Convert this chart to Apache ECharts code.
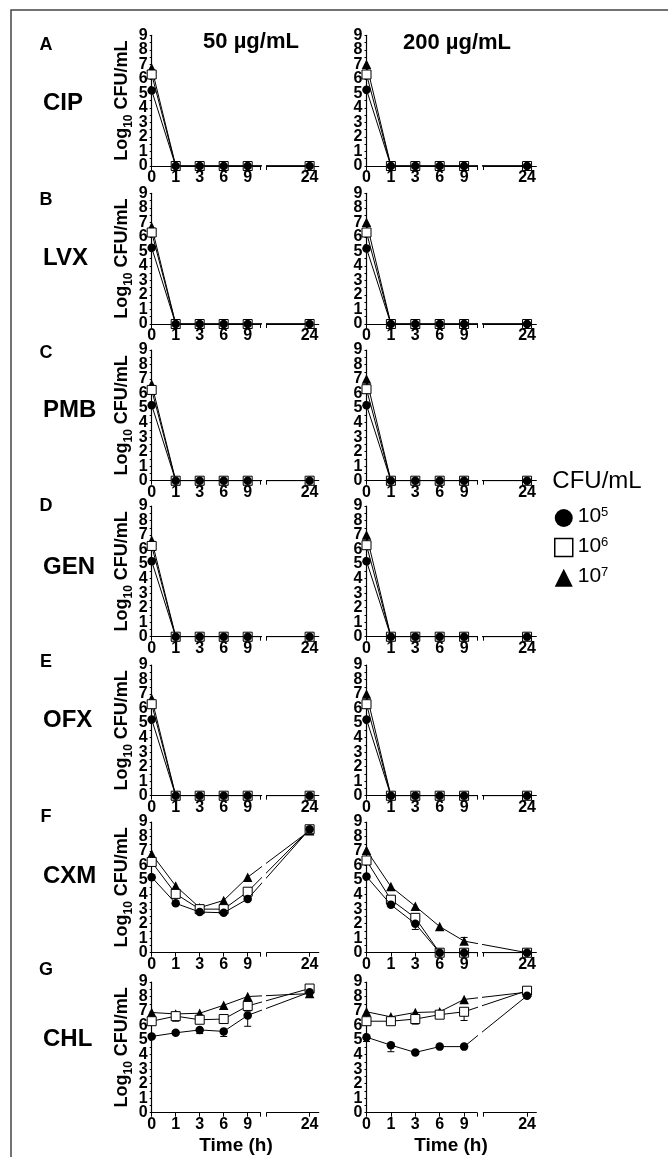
<!DOCTYPE html>
<html>
<head>
<meta charset="utf-8">
<script src="https://cdn.jsdelivr.net/npm/echarts@6/dist/echarts.min.js"></script>
<style>
html, body { margin: 0; padding: 0; background: #fff; }
#main { width: 668px; height: 1157px; }
</style>
</head>
<body>
<div id="main"></div>
<script>
// 时间点 (h)
var times = [0, 1, 3, 6, 9, 24];
var timeLabels = ['0', '1', '3', '6', '9', '24'];
var yTicks = [0, 1, 2, 3, 4, 5, 6, 7, 8, 9];
var rowLetters = ['A', 'B', 'C', 'D', 'E', 'F', 'G'];
var drugs = ['CIP', 'LVX', 'PMB', 'GEN', 'OFX', 'CXM', 'CHL'];
var doses = ['50 µg/mL', '200 µg/mL'];
var inocula = ['10^5', '10^6', '10^7'];

// 每组: [10^5 圆, 10^6 方, 10^7 三角], 对应 0,1,3,6,9,24 h
var cip50 = [[5.2, 0, 0, 0, 0, 0], [6.3, 0, 0, 0, 0, 0], [6.75, 0, 0, 0, 0, 0]];
var cip200 = [[5.25, 0, 0, 0, 0, 0], [6.3, 0, 0, 0, 0, 0], [7.0, 0, 0, 0, 0, 0]];
var lvx50 = [[5.25, 0, 0, 0, 0, 0], [6.3, 0, 0, 0, 0, 0], [6.7, 0, 0, 0, 0, 0]];
var lvx200 = [[5.2, 0, 0, 0, 0, 0], [6.3, 0, 0, 0, 0, 0], [7.0, 0, 0, 0, 0, 0]];
var pmb50 = [[5.2, 0, 0, 0, 0, 0], [6.25, 0, 0, 0, 0, 0], [6.65, 0, 0, 0, 0, 0]];
var pmb200 = [[5.2, 0, 0, 0, 0, 0], [6.3, 0, 0, 0, 0, 0], [7.0, 0, 0, 0, 0, 0]];
var gen50 = [[5.2, 0, 0, 0, 0, 0], [6.25, 0, 0, 0, 0, 0], [6.65, 0, 0, 0, 0, 0]];
var gen200 = [[5.2, 0, 0, 0, 0, 0], [6.3, 0, 0, 0, 0, 0], [7.0, 0, 0, 0, 0, 0]];
var ofx50 = [[5.25, 0, 0, 0, 0, 0], [6.3, 0, 0, 0, 0, 0], [6.7, 0, 0, 0, 0, 0]];
var ofx200 = [[5.25, 0, 0, 0, 0, 0], [6.3, 0, 0, 0, 0, 0], [7.0, 0, 0, 0, 0, 0]];
var cxm50 = [[5.2, 3.4, 2.8, 2.75, 3.7, 8.5], [6.25, 4.05, 3.0, 3.0, 4.2, 8.5], [6.8, 4.6, 3.1, 3.6, 5.2, 8.4]];
var cxm200 = [[5.25, 3.3, 2.0, 0, 0, 0], [6.35, 3.65, 2.4, 0, 0, 0], [7.05, 4.55, 3.2, 1.8, 0.8, 0]];
var chl50 = [[5.25, 5.5, 5.7, 5.6, 6.7, 8.3], [6.3, 6.65, 6.4, 6.45, 7.35, 8.55], [6.9, 6.8, 6.85, 7.4, 8.0, 8.2]];
var chl200 = [[5.2, 4.65, 4.15, 4.55, 4.55, 8.05], [6.3, 6.3, 6.45, 6.75, 6.95, 8.4], [6.95, 6.6, 6.9, 6.95, 7.8, 8.3]];

// 误差线: [组, 时间, 起, 止]
var cxm200Err = [[0, 3, 2.0, 1.6], [2, 6, 1.8, 1.55], [2, 9, 0.8, 1.05]];
var chl50Err = [[0, 3, 5.7, 5.45], [0, 6, 5.6, 5.25], [0, 9, 6.7, 5.95], [1, 1, 6.65, 6.3], [1, 9, 7.35, 7.0]];
var chl200Err = [[0, 0, 5.2, 4.9], [0, 1, 4.65, 4.2], [1, 3, 6.45, 6.1], [1, 9, 6.95, 6.35]];

var panels = [
    [cip50, cip200], [lvx50, lvx200], [pmb50, pmb200], [gen50, gen200],
    [ofx50, ofx200], [cxm50, cxm200], [chl50, chl200]
];
var panelErrs = [
    [[], []], [[], []], [[], []], [[], []], [[], []], [[], cxm200Err], [chl50Err, chl200Err]
];

(function () {
    var FONT = 'Arial, "Liberation Sans", sans-serif';
    var myChart = echarts.init(document.getElementById('main'));

    // 版面
    var rowZero = [166, 324, 480.7, 636.7, 795.7, 952.7, 1112.7];
    var letterY = [45, 200, 353, 506, 662, 817, 970];
    var drugY = [103, 258, 410, 567, 720, 876, 1039];
    var colOrigin = [151.7, 366.5];
    var colUnit = [24, 24.4];
    var PH = 130.7;
    // 断轴: 0..9 等距, 24 放在断口后
    var BREAK_L = 4.53, BREAK_R = 4.79, AXIS_END = 6.96, POS_24 = 6.58;
    function timePos(t) {
        return t === 24 ? POS_24 : times.indexOf(t);
    }
    var yEven = yTicks.filter(function (v) { return v % 2 === 0; });
    var yOdd = yTicks.filter(function (v) { return v % 2 === 1; });

    var symbols = ['circle', 'rect', 'triangle'];
    var symbolSizes = [8.5, 9, 9.5];
    var fills = ['#000', '#fff', '#000'];
    var zs = [5, 4, 3];

    var grids = [], xAxes = [], yAxes = [], series = [];
    var tickLabel = { fontSize: 16, fontWeight: 'bold', color: '#000', fontFamily: FONT };

    panels.forEach(function (row, r) {
        row.forEach(function (vals, c) {
            var zero = rowZero[r], x0 = colOrigin[c], u = colUnit[c];
            var gi = grids.length;
            grids.push({ left: x0, top: zero - PH, width: BREAK_L * u, height: PH });
            grids.push({ left: x0 + BREAK_R * u, top: zero - PH, width: (AXIS_END - BREAK_R) * u, height: PH });

            xAxes.push({
                gridIndex: gi, type: 'value', min: 0, max: BREAK_L,
                axisLine: { lineStyle: { color: '#000', width: 1.2 } },
                axisTick: { customValues: [0, 1, 2, 3, 4, BREAK_L], length: 4, lineStyle: { color: '#000' } },
                axisLabel: Object.assign({
                    customValues: [0, 1, 2, 3, 4], margin: 4,
                    formatter: function (v) { return timeLabels[Math.round(v)]; }
                }, tickLabel),
                splitLine: { show: false }
            });
            xAxes.push({
                gridIndex: gi + 1, type: 'value', min: BREAK_R, max: AXIS_END,
                axisLine: { lineStyle: { color: '#000', width: 1.2 } },
                axisTick: { customValues: [BREAK_R, POS_24], length: 4, lineStyle: { color: '#000' } },
                axisLabel: Object.assign({
                    customValues: [POS_24], margin: 4,
                    formatter: function () { return timeLabels[5]; }
                }, tickLabel),
                splitLine: { show: false }
            });

            // 主 y 轴 (偶数刻度标签) + 叠加轴 (奇数刻度标签), 避免标签被自动隐藏
            var yi = yAxes.length;
            var yMain = {
                gridIndex: gi, type: 'value', min: yTicks[0], max: yTicks[yTicks.length - 1], interval: 1,
                axisLine: { show: true, lineStyle: { color: '#000', width: 1.2 } },
                axisTick: { show: true, length: 2, lineStyle: { color: '#000' } },
                minorTick: { show: true, splitNumber: 2, length: 2, lineStyle: { color: '#000' } },
                axisLabel: Object.assign({ customValues: yEven, margin: 4, showMinLabel: true, showMaxLabel: true }, tickLabel),
                splitLine: { show: false }
            };
            if (c === 0) {
                yMain.name = '{a|Log}{s|10}{a| CFU/mL}';
                yMain.nameLocation = 'middle';
                yMain.nameGap = 17;
                yMain.nameTextStyle = {
                    rich: {
                        a: { fontSize: 18, fontWeight: 'bold', fontFamily: FONT, color: '#000', lineHeight: 22, verticalAlign: 'top' },
                        s: { fontSize: 12, fontWeight: 'bold', fontFamily: FONT, color: '#000', lineHeight: 12, verticalAlign: 'bottom' }
                    }
                };
            }
            yAxes.push(yMain);
            yAxes.push({
                gridIndex: gi, type: 'value', position: 'left', offset: 0,
                min: yTicks[0], max: yTicks[yTicks.length - 1], interval: 1,
                axisLine: { show: false }, axisTick: { show: false },
                axisLabel: Object.assign({ customValues: yOdd, margin: 4, showMinLabel: true, showMaxLabel: true }, tickLabel),
                splitLine: { show: false }
            });
            yAxes.push({ gridIndex: gi + 1, type: 'value', min: 0, max: 9, show: false });
            var yIdx = [yi, yi + 2];

            // 三组曲线, 断口两侧各画一次 (由网格裁剪)
            [2, 1, 0].forEach(function (k) {
                var pts = vals[k].map(function (v, i) { return [timePos(times[i]), v]; });
                [0, 1].forEach(function (g) {
                    series.push({
                        type: 'line', name: inocula[k],
                        xAxisIndex: gi + g, yAxisIndex: yIdx[g],
                        data: pts, clip: true,
                        symbol: symbols[k], symbolSize: symbolSizes[k], showSymbol: true,
                        lineStyle: { color: '#000', width: 1 },
                        itemStyle: { color: fills[k], borderColor: '#000', borderWidth: k === 1 ? 1 : 0 },
                        z: zs[k], silent: true
                    });
                });
            });

            var errs = panelErrs[r][c];
            if (errs.length) {
                series.push({
                    type: 'custom', xAxisIndex: gi, yAxisIndex: yi, z: 2, silent: true,
                    data: errs.map(function (e) { return [timePos(e[1]), e[2], e[3]]; }),
                    renderItem: function (params, api) {
                        var a = api.coord([api.value(0), api.value(1)]);
                        var b = api.coord([api.value(0), api.value(2)]);
                        var w = 3.5;
                        return {
                            type: 'group',
                            children: [
                                { type: 'line', shape: { x1: a[0], y1: a[1], x2: b[0], y2: b[1] }, style: { stroke: '#000', lineWidth: 1 } },
                                { type: 'line', shape: { x1: b[0] - w, y1: b[1], x2: b[0] + w, y2: b[1] }, style: { stroke: '#000', lineWidth: 1 } }
                            ]
                        };
                    }
                });
            }
        });
    });

    // 文字
    var graphics = [
        { type: 'rect', shape: { x: 11, y: 10, width: 720, height: 1200 }, style: { fill: 'none', stroke: '#444', lineWidth: 1.5 }, silent: true },
        { type: 'text', x: 251, y: 42, style: { text: doses[0], font: 'bold 22px ' + FONT, fill: '#000', align: 'center', verticalAlign: 'middle' } },
        { type: 'text', x: 457, y: 43, style: { text: doses[1], font: 'bold 22px ' + FONT, fill: '#000', align: 'center', verticalAlign: 'middle' } },
        { type: 'text', x: 236, y: 1146, style: { text: 'Time (h)', font: 'bold 19px ' + FONT, fill: '#000', align: 'center', verticalAlign: 'middle' } },
        { type: 'text', x: 451, y: 1146, style: { text: 'Time (h)', font: 'bold 19px ' + FONT, fill: '#000', align: 'center', verticalAlign: 'middle' } },
        { type: 'text', x: 597, y: 481, style: { text: 'CFU/mL', font: '24px ' + FONT, fill: '#000', align: 'center', verticalAlign: 'middle' } }
    ];
    rowLetters.forEach(function (l, r) {
        graphics.push({ type: 'text', x: 46, y: letterY[r], style: { text: l, font: 'bold 18px ' + FONT, fill: '#000', align: 'center', verticalAlign: 'middle' } });
        graphics.push({ type: 'text', x: 43, y: drugY[r], style: { text: drugs[r], font: 'bold 24px ' + FONT, fill: '#000', align: 'left', verticalAlign: 'middle' } });
    });

    var option = {
        animation: false,
        textStyle: { fontFamily: FONT },
        grid: grids,
        xAxis: xAxes,
        yAxis: yAxes,
        legend: {
            orient: 'vertical', left: 554, top: 506, padding: 0,
            itemWidth: 18, itemHeight: 18, itemGap: 8.5,
            selectedMode: false,
            data: [
                { name: inocula[0], icon: 'circle', itemStyle: { color: '#000', borderWidth: 0 } },
                { name: inocula[1], icon: 'rect', itemStyle: { color: '#fff', borderColor: '#000', borderWidth: 1.5 } },
                { name: inocula[2], icon: 'triangle', itemStyle: { color: '#000', borderWidth: 0 } }
            ],
            formatter: function (name) {
                var p = name.split('^');
                return '{n|' + p[0] + '}{p|' + p[1] + '}';
            },
            textStyle: {
                rich: {
                    n: { fontSize: 21, fontFamily: FONT, color: '#000', lineHeight: 24, verticalAlign: 'top' },
                    p: { fontSize: 13, fontFamily: FONT, color: '#000', lineHeight: 16, verticalAlign: 'top' }
                }
            }
        },
        graphic: graphics,
        series: series
    };
    myChart.setOption(option);
    window.addEventListener('resize', function () {
        myChart.resize();
    });
})();
</script>
</body>
</html>
